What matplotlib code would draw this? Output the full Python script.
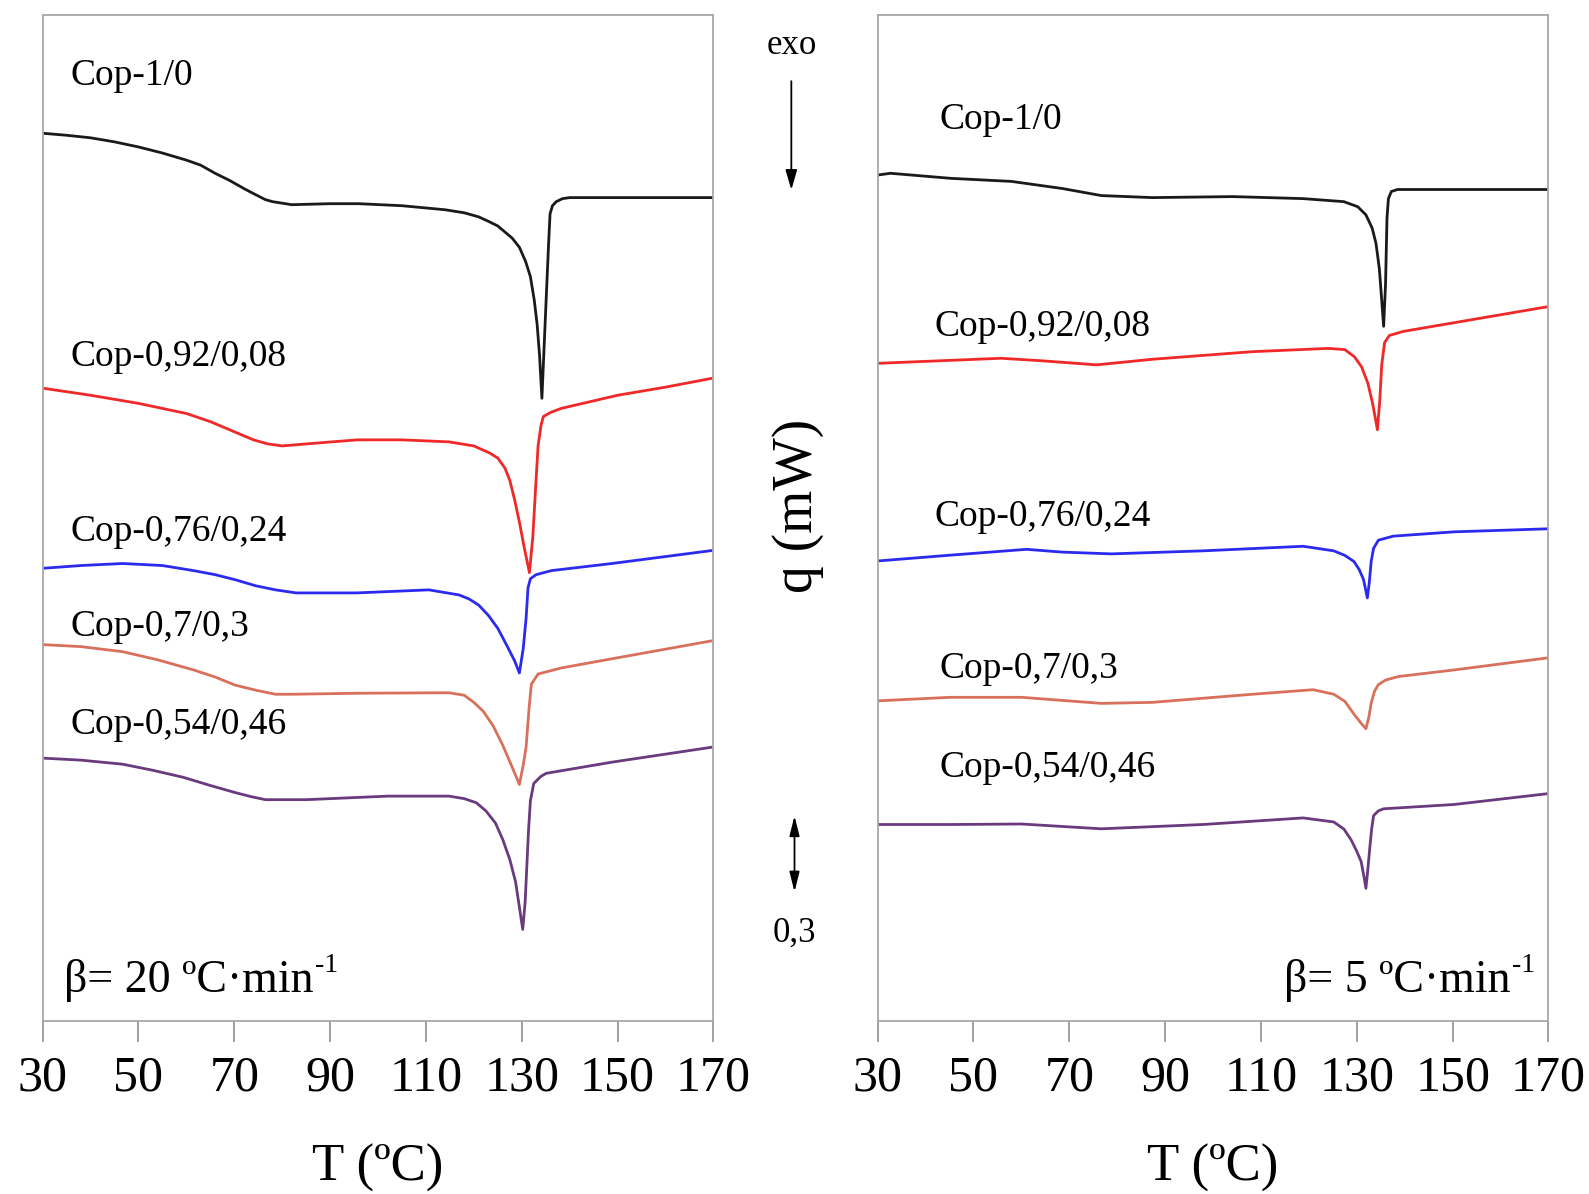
import matplotlib
matplotlib.use("Agg")
import matplotlib.pyplot as plt
import matplotlib.transforms as mtransforms

plt.rcParams['font.family'] = ['Liberation Serif', 'DejaVu Serif']

# --- DONNEES ---
labels = ["Cop-1/0", "Cop-0,92/0,08", "Cop-0,76/0,24", "Cop-0,7/0,3", "Cop-0,54/0,46"]
colors = ["#1a1a1a", "#f02828", "#2b2bf0", "#d8705c", "#6a3a7e"]

# beta = 20 ºC/min
T20_0 = [30, 35, 40, 45, 50, 55, 60, 63, 66, 69, 72, 74, 76.5, 78, 82, 90, 96, 105, 114, 118, 121,
         123.3, 125, 126.5, 128, 129.5, 130.8, 131.8, 132.6, 133.2, 133.7, 134.2, 135.0, 135.6,
         135.9, 136.4, 137.2, 138.5, 140, 170]
q20_0 = [3.502, 3.494, 3.484, 3.468, 3.448, 3.424, 3.396, 3.376, 3.344, 3.316, 3.284, 3.264, 3.240,
         3.232, 3.220, 3.224, 3.224, 3.216, 3.200, 3.188, 3.172, 3.152, 3.136, 3.112, 3.088, 3.052,
         2.996, 2.936, 2.844, 2.748, 2.628, 2.456, 2.808, 3.068, 3.184, 3.216, 3.232, 3.244, 3.248,
         3.248]

T20_1 = [30, 40, 50, 60, 65, 70, 74, 77, 80, 85, 95.7, 105, 114.8, 120, 123.3, 125, 126.5, 127.5,
         128.5, 129.5, 130.5, 131.6, 132.3, 132.9, 133.4, 134, 134.5, 136, 138.2, 150, 160, 170]
q20_1 = [2.496, 2.468, 2.436, 2.396, 2.364, 2.324, 2.292, 2.276, 2.268, 2.276, 2.292, 2.292, 2.284,
         2.268, 2.240, 2.220, 2.180, 2.132, 2.056, 1.968, 1.868, 1.768, 1.908, 2.108, 2.268, 2.348,
         2.384, 2.400, 2.416, 2.468, 2.500, 2.536]

T20_2 = [30, 38, 46.7, 55, 61.5, 66, 70.2, 74.5, 78.6, 82.9, 95.6, 110.6, 116.9, 119, 121, 123,
         125, 127, 128.5, 129.5, 130.3, 130.9, 131.3, 131.8, 133, 136.2, 148.8, 170]
q20_2 = [1.785, 1.796, 1.804, 1.796, 1.776, 1.760, 1.740, 1.716, 1.700, 1.688, 1.688, 1.700, 1.680,
         1.664, 1.640, 1.600, 1.548, 1.476, 1.420, 1.372, 1.468, 1.588, 1.708, 1.744, 1.760, 1.776,
         1.804, 1.856]

T20_3 = [30, 38, 46.7, 54, 61.5, 66, 70.2, 74.5, 78.6, 82, 95.6, 114.8, 118, 120, 122, 124, 126,
         128, 129.5, 130.3, 130.9, 131.5, 132, 133.4, 138.3, 148.8, 170]
q20_3 = [1.484, 1.476, 1.456, 1.424, 1.384, 1.356, 1.324, 1.304, 1.288, 1.288, 1.292, 1.294, 1.284,
         1.256, 1.220, 1.164, 1.088, 1.000, 0.932, 1.008, 1.080, 1.228, 1.328, 1.368, 1.392, 1.428,
         1.500]

T20_4 = [30, 38, 46.7, 53, 59.4, 65, 70.2, 73.5, 76.5, 80, 85, 102.1, 114.8, 118, 120.5, 122.5,
         124.5, 126, 127.5, 128.7, 129.5, 130.2, 130.7, 131, 131.4, 131.8, 132.5, 134, 135.1, 148.8,
         170]
q20_4 = [1.036, 1.028, 1.012, 0.988, 0.960, 0.928, 0.900, 0.884, 0.872, 0.872, 0.872, 0.886, 0.886,
         0.876, 0.860, 0.828, 0.780, 0.716, 0.636, 0.548, 0.448, 0.360, 0.468, 0.588, 0.748, 0.868,
         0.936, 0.964, 0.976, 1.020, 1.080]

# beta = 5 ºC/min
T5_0 = [30, 32.7, 45.3, 57.9, 68.5, 76.7, 87.3, 104.1, 118.8, 127.3, 130.2, 131.9, 133.2, 134,
        134.7, 135.1, 135.6, 136.0, 136.3, 136.6, 137.2, 138.5, 170]
q5_0 = [3.337, 3.344, 3.324, 3.312, 3.284, 3.256, 3.248, 3.252, 3.244, 3.232, 3.212, 3.180, 3.128,
        3.068, 2.968, 2.868, 2.740, 2.908, 3.168, 3.244, 3.272, 3.280, 3.280]

T5_1 = [30, 55.8, 64.3, 75.7, 87.3, 108.2, 124.1, 127.5, 129.5, 131, 132.3, 133.3, 134.3, 134.8,
        135.2, 135.8, 136.8, 139.7, 170]
q5_1 = [2.594, 2.614, 2.604, 2.588, 2.610, 2.640, 2.653, 2.648, 2.620, 2.580, 2.516, 2.436, 2.332,
        2.448, 2.588, 2.676, 2.704, 2.720, 2.818]

T5_2 = [30, 45.2, 61.1, 68.5, 78.8, 97.9, 118.8, 125.2, 127.5, 129.4, 130.5, 131.4, 132.2, 132.6,
        133, 133.5, 134.5, 137.6, 150.3, 170]
q5_2 = [1.814, 1.837, 1.860, 1.849, 1.842, 1.854, 1.872, 1.854, 1.836, 1.812, 1.780, 1.741, 1.668,
        1.728, 1.812, 1.864, 1.896, 1.912, 1.929, 1.941]

T5_3 = [30, 45.2, 60, 76.7, 87.3, 108.2, 120.9, 125.2, 127.5, 129.4, 130.8, 131.9, 132.5, 133,
        133.7, 134.5, 136, 138.7, 150.3, 170]
q5_3 = [1.262, 1.276, 1.276, 1.252, 1.256, 1.288, 1.306, 1.288, 1.260, 1.210, 1.176, 1.152, 1.196,
        1.253, 1.300, 1.326, 1.344, 1.358, 1.384, 1.432]

T5_4 = [30, 45.2, 60, 76.7, 97.9, 118.8, 125.2, 127.3, 128.8, 130, 130.9, 131.5, 131.9, 132.3,
        132.7, 133.1, 133.5, 134.5, 135.6, 150.3, 170]
q5_4 = [0.774, 0.774, 0.776, 0.757, 0.774, 0.800, 0.784, 0.756, 0.714, 0.668, 0.628, 0.568, 0.522,
        0.596, 0.680, 0.756, 0.809, 0.828, 0.836, 0.853, 0.896]

curves20 = [(T20_0, q20_0), (T20_1, q20_1), (T20_2, q20_2), (T20_3, q20_3), (T20_4, q20_4)]
curves5 = [(T5_0, q5_0), (T5_1, q5_1), (T5_2, q5_2), (T5_3, q5_3), (T5_4, q5_4)]

# positions des etiquettes (fraction d'axes)
lab_pos20 = [(0.042, 0.940), (0.042, 0.660), (0.042, 0.486), (0.042, 0.392), (0.042, 0.294)]
lab_pos5 = [(0.092, 0.896), (0.085, 0.690), (0.085, 0.501), (0.092, 0.350), (0.092, 0.252)]

XTICKS = list(range(30, 171, 20))
YMAX = 3.968
SCALE = 0.3

fig = plt.figure(figsize=(15.89, 11.94), dpi=100)
ax1 = fig.add_axes([0.0268, 0.1452, 0.4222, 0.8421])
ax2 = fig.add_axes([0.5523, 0.1452, 0.4222, 0.8421])

for ax, curves, pos in [(ax1, curves20, lab_pos20), (ax2, curves5, lab_pos5)]:
    for (T, q), c, lab, (px, py) in zip(curves, colors, labels, pos):
        ax.plot(T, q, color=c, lw=2.0, solid_joinstyle='round')
        ax.text(px, py, lab, transform=ax.transAxes, fontsize=27, va='center', ha='left')
    ax.set_xlim(30, 170)
    ax.set_ylim(0, YMAX)
    ax.set_xticks(XTICKS)
    ax.set_yticks([])
    ax.tick_params(axis='x', direction='out', length=15, width=1.3, color='#9a9a9a',
                   labelsize=36, pad=10, top=False)
    for s in ax.spines.values():
        s.set_color('#a8a8a8')
        s.set_linewidth(1.3)
    ax.set_xlabel('T (ºC)', fontsize=38, labelpad=30)

# vitesse de chauffe, exposant "-1" a part
b1 = ax1.text(0.032, 0.040, 'β= 20 ºC·min', transform=ax1.transAxes,
              fontsize=33, va='center', ha='left')
ax1.annotate('-1', xy=(1, 1), xycoords=b1, xytext=(1, 4), textcoords='offset points',
             fontsize=20, ha='left', va='top')
b2 = ax2.text(0.943, 0.040, 'β= 5 ºC·min', transform=ax2.transAxes,
              fontsize=33, va='center', ha='right')
ax2.annotate('-1', xy=(1, 1), xycoords=b2, xytext=(1, 4), textcoords='offset points',
             fontsize=20, ha='left', va='top')

# zone centrale : exo, q (mW), barre d'echelle
fig.text(0.498, 0.962, 'exo', fontsize=25, ha='center', va='center')
ax1.annotate('', xy=(0.498, 0.841), xytext=(0.498, 0.932), xycoords='figure fraction',
             textcoords='figure fraction',
             arrowprops=dict(arrowstyle='-|>,head_length=1.2,head_width=0.35', color='black', lw=1.3,
                             shrinkA=0, shrinkB=0))
fig.text(0.502, 0.576, 'q (mW)', fontsize=40, rotation=90, ha='center', va='center')

blend = mtransforms.blended_transform_factory(fig.transFigure, ax1.transData)
y0 = 0.508
ax1.annotate('', xy=(0.5, y0), xytext=(0.5, y0 + SCALE), xycoords=blend, textcoords=blend,
             arrowprops=dict(arrowstyle='<|-|>,head_length=1.2,head_width=0.3', color='black', lw=1.3,
                             shrinkA=0, shrinkB=0))
fig.text(0.5, 0.218, '0,3', fontsize=25, ha='center', va='center')

fig.savefig('out.png', dpi=100)
